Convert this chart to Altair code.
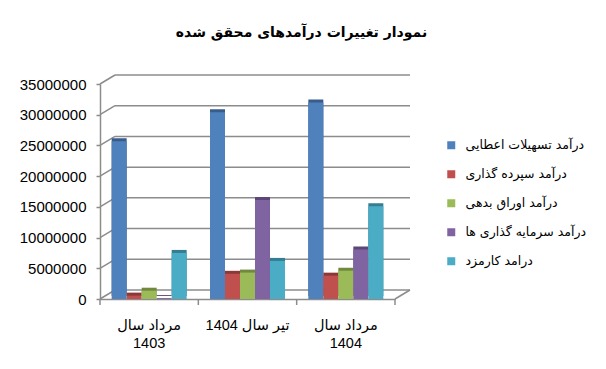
import altair as alt
import pandas as pd

# ---------------- data ----------------
categories = ["مرداد سال|1403", "\u202bتیر سال 1404\u202c", "مرداد سال|1404"]
series = [
    "درآمد تسهیلات اعطایی",
    "درآمد سپرده گذاری",
    "درآمد اوراق بدهی",
    "درآمد سرمایه گذاری ها",
    "درامد کارمزد",
]
s_tashilat = [25700000, 30400000, 32000000]
s_sepordeh = [550000, 4100000, 3800000]
s_owragh = [1350000, 4300000, 4600000]
s_sarmayeh = [150000, 16100000, 8050000]
s_karmozd = [7500000, 6200000, 15100000]
y_ticks = [0, 5000000, 10000000, 15000000, 20000000, 25000000, 30000000, 35000000]

title_text = "نمودار تغییرات درآمدهای  محقق شده"

colors = ["#4F81BD", "#C0504D", "#9BBB59", "#8064A2", "#4BACC6"]
dark_colors = ["#385D8A", "#8C3836", "#71893F", "#5C4776", "#357D91"]

all_series = [s_tashilat, s_sepordeh, s_owragh, s_sarmayeh, s_karmozd]
rows = []
for name, vals in zip(series, all_series):
    for c, v in zip(categories, vals):
        rows.append({"cat": c, "series": name, "value": v})
df = pd.DataFrame(rows)
ticks_df = pd.DataFrame({"value": y_ticks})

W, H = 295, 215
DX, DY = 15, -9
GRID = "#8C8C8C"
NUMFONT = "Liberation Sans, DejaVu Sans"
FAFONT = "DejaVu Sans"

yscale = alt.Scale(domain=[0, 35000000], nice=False)

xaxis = alt.Axis(
    title=None,
    ticks=False,
    labelAngle=0,
    labelAlign="center",
    labelExpr="split(datum.label, '|')",
    labelFont=NUMFONT,
    labelFontSize=14.5,
    labelColor="#000000",
    labelPadding=19,
    labelLineHeight=18,
    domainColor=GRID,
    domainWidth=1.5,
)
xenc = alt.X(
    "cat:N",
    sort=categories,
    scale=alt.Scale(paddingInner=0, paddingOuter=0),
    axis=xaxis,
)
xoff = alt.XOffset(
    "series:N", sort=series, scale=alt.Scale(paddingOuter=0.778, paddingInner=0)
)
yaxis = alt.Axis(
    title=None,
    values=y_ticks,
    format="d",
    grid=False,
    labelOverlap=False,
    labelFont="Liberation Sans",
    labelFontSize=15,
    labelColor="#000000",
    labelPadding=10,
    tickColor=GRID,
    tickSize=4,
    tickWidth=1.5,
    domainColor=GRID,
    domainWidth=1.5,
)
yenc = alt.Y("value:Q", scale=yscale, axis=yaxis)

# back-wall gridlines
grid = alt.Chart(ticks_df).mark_rule(
    color=GRID, strokeWidth=1.5, xOffset=DX, x2Offset=DX, yOffset=DY, y2Offset=DY
).encode(x=alt.value(0), x2=alt.value(W), y=yenc)

# side-wall connectors
diag = alt.Chart(ticks_df).mark_rule(
    color=GRID, strokeWidth=1.5, y2Offset=DY
).encode(x=alt.value(0), x2=alt.value(DX), y=yenc, y2="value:Q")

# floor right edge
floor_edge = alt.Chart(ticks_df).transform_filter("datum.value == 0").mark_rule(
    color=GRID, strokeWidth=1.5, y2Offset=DY
).encode(x=alt.value(W), x2=alt.value(W + DX), y=yenc, y2="value:Q")

# x ticks at category boundaries (band start = centre minus half a step)
xticks = alt.Chart(pd.DataFrame({"cat": categories})).mark_rule(
    color=GRID, strokeWidth=1.5, xOffset=-W / 6
).encode(
    x=xenc,
    y=alt.value(H),
    y2=alt.value(H + 6),
)
xtick_end = alt.Chart(pd.DataFrame({"cat": categories[:1]})).mark_rule(
    color=GRID, strokeWidth=1.5
).encode(x=alt.value(W), y=alt.value(H), y2=alt.value(H + 6))

dark = alt.Chart(df).mark_bar(xOffset=9, yOffset=-3).encode(
    x=xenc,
    xOffset=xoff,
    y=yenc,
    color=alt.Color(
        "series:N", sort=series, scale=alt.Scale(domain=series, range=dark_colors), legend=None
    ),
)

front = alt.Chart(df).mark_bar(xOffset=5).encode(
    x=xenc,
    xOffset=xoff,
    y=yenc,
    color=alt.Color(
        "series:N",
        sort=series,
        scale=alt.Scale(domain=series, range=colors),
        legend=alt.Legend(
            title=None,
            orient="none",
            legendX=345,
            legendY=55,
            padding=0,
            symbolType="square",
            symbolSize=64,
            symbolStrokeWidth=0,
            labelFont=FAFONT,
            labelFontSize=12.5,
            labelColor="#000000",
            labelOffset=8,
            rowPadding=16,
            labelLimit=300,
        ),
    ),
)

chart = (
    alt.layer(grid, diag, floor_edge, xticks, xtick_end, dark, front)
    .resolve_scale(color="independent")
    .properties(
        width=W,
        height=H,
        autosize="none",
        padding={"left": 92, "top": 76, "right": 203, "bottom": 62},
        title=alt.TitleParams(
            title_text,
            font=FAFONT,
            fontSize=14,
            fontWeight="bold",
            color="#000000",
            anchor="middle",
            frame="group",
            dx=54,
            offset=34,
        ),
        background="#FFFFFF",
    )
    .configure_view(strokeWidth=0)
)

chart.save("out.html", embed_options={"renderer": "svg", "actions": False})
